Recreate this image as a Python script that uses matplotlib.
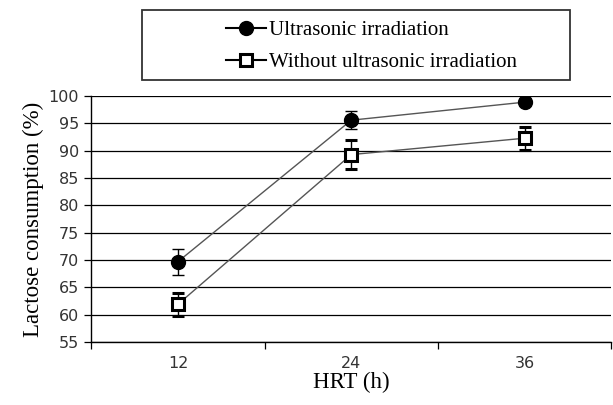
import matplotlib
matplotlib.use('Agg')
import matplotlib.pyplot as plt
from matplotlib.lines import Line2D
from matplotlib.patches import Rectangle
import numpy as np

# 数据
hrt_labels = ['12', '24', '36']
ultra_vals = [69.7, 95.6, 98.9]
ultra_err = [2.4, 1.7, 0.5]
without_vals = [61.9, 89.3, 92.3]
without_err = [2.1, 2.6, 2.1]
y_ticks = [55, 60, 65, 70, 75, 80, 85, 90, 95, 100]
series_names = ['Ultrasonic irradiation', 'Without ultrasonic irradiation']

serif = 'Liberation Serif'

fig = plt.figure(figsize=(6.13, 4.05), dpi=100)
ax = fig.add_axes([0.149, 0.1556, 0.848, 0.607])

x = np.arange(len(hrt_labels)) + 0.5

# 网格线
for t in y_ticks:
    ax.axhline(t, color='black', lw=0.9, zorder=1)

ax.errorbar(x, ultra_vals, yerr=ultra_err, color='#555555', lw=1.0,
            marker='o', ms=10, mfc='black', mec='black',
            ecolor='black', elinewidth=1.0, capsize=4, capthick=1.0,
            zorder=3)
ax.errorbar(x, without_vals, yerr=without_err, color='#555555', lw=1.0,
            marker='s', ms=8, mfc='white', mec='black', mew=2.2,
            ecolor='black', elinewidth=1.0, capsize=4, capthick=1.0,
            zorder=3)

ax.set_xlim(0, 3)
ax.set_ylim(55, 100)
ax.set_yticks(y_ticks)
ax.set_yticklabels([str(t) for t in y_ticks], fontsize=11.5, color='#333333')
ax.set_xticks(x)
ax.set_xticklabels(hrt_labels, fontsize=11.5, color='#333333')
ax.set_xticks([0, 1, 2, 3], minor=True)
ax.tick_params(axis='x', which='major', length=0, pad=10)
ax.tick_params(axis='x', which='minor', length=5, width=0.9, direction='out')
ax.tick_params(axis='y', length=5, width=0.9, direction='out', pad=4)

for s in ['top', 'right']:
    ax.spines[s].set_visible(False)
for s in ['left', 'bottom']:
    ax.spines[s].set_linewidth(1.0)
    ax.spines[s].set_color('black')

ax.set_xlabel('HRT (h)', fontsize=16.5, family=serif, labelpad=1)
ax.set_ylabel('Lactose consumption (%)', fontsize=16.5, family=serif, labelpad=3)

# 图例框
fig.patches.append(Rectangle((0.232, 0.802), 0.698, 0.173, transform=fig.transFigure,
                             fill=False, edgecolor='#333333', lw=1.3))
handles = [
    Line2D([], [], color='black', lw=1.5, marker='o', ms=10, mfc='black', mec='black'),
    Line2D([], [], color='black', lw=1.5, marker='s', ms=8, mfc='white', mec='black', mew=2.2),
]
leg = fig.legend(handles, series_names, loc='upper left',
                 bbox_to_anchor=(0.369, 0.95), frameon=False,
                 prop={'family': serif, 'size': 15}, handlelength=1.9,
                 borderpad=0, labelspacing=0.62, handletextpad=0.15,
                 borderaxespad=0)

fig.savefig('out.png', dpi=100)
